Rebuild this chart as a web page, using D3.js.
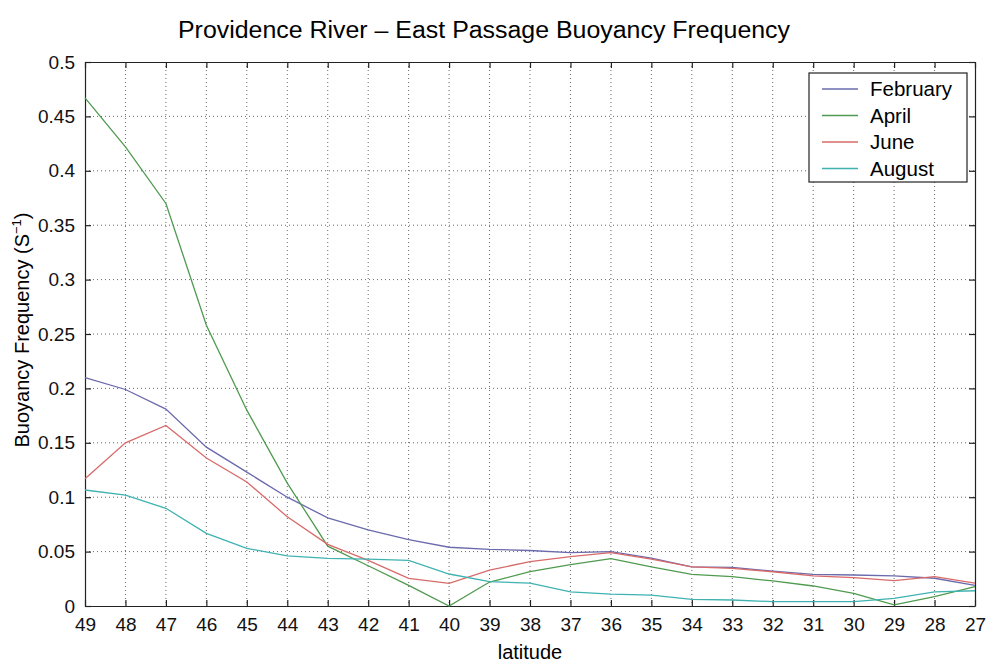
<!DOCTYPE html>
<html>
<head>
<meta charset="utf-8">
<script src="https://cdn.jsdelivr.net/npm/d3@7"></script>
<style>
  body { margin: 0; background: #fff; }
  svg { font-family: "Liberation Sans", Arial, sans-serif; }
</style>
</head>
<body>
<svg id="chart" width="992" height="664"></svg>
<script>
// latitude stations, north to south
var latitudes = [49, 48, 47, 46, 45, 44, 43, 42, 41, 40, 39, 38, 37, 36, 35, 34, 33, 32, 31, 30, 29, 28, 27];

var february = [0.210, 0.199, 0.181, 0.146, 0.123, 0.100, 0.081, 0.070, 0.061, 0.054, 0.052, 0.051, 0.049, 0.050, 0.044, 0.036, 0.0355, 0.032, 0.029, 0.0285, 0.0276, 0.0255, 0.019];
var april    = [0.467, 0.422, 0.370, 0.258, 0.180, 0.113, 0.055, 0.037, 0.019, 0.000, 0.022, 0.0315, 0.038, 0.0435, 0.036, 0.029, 0.027, 0.023, 0.0184, 0.0117, 0.001, 0.0086, 0.0178];
var june     = [0.117, 0.150, 0.166, 0.136, 0.114, 0.082, 0.0567, 0.042, 0.0254, 0.0208, 0.033, 0.0407, 0.0453, 0.049, 0.043, 0.036, 0.0346, 0.0315, 0.0276, 0.026, 0.0233, 0.027, 0.021];
var august   = [0.1066, 0.102, 0.0898, 0.0668, 0.053, 0.046, 0.0438, 0.043, 0.042, 0.0294, 0.0224, 0.021, 0.013, 0.011, 0.010, 0.006, 0.0055, 0.004, 0.004, 0.004, 0.007, 0.013, 0.014];

var seriesNames = ["February", "April", "June", "August"];
var seriesColors = ["#6a6aac", "#4f9a4f", "#d86a6a", "#3fb2b2"];
var seriesValues = [february, april, june, august];

var yTicks = [0, 0.05, 0.1, 0.15, 0.2, 0.25, 0.3, 0.35, 0.4, 0.45, 0.5];

var svg = d3.select("#chart");
var plotL = 85, plotR = 975, plotT = 62, plotB = 606;

var x = d3.scaleLinear().domain([49, 27]).range([plotL, plotR]);
var y = d3.scaleLinear().domain([0, 0.5]).range([plotB, plotT]);

function fmtY(d) {
    if (d == 0) return "0";
    return String(+d.toFixed(2));
}

// grid
var grid = svg.append("g").attr("class", "grid");
grid.selectAll("line.gx")
    .data(latitudes.slice(1, -1))
    .enter().append("line")
    .attr("class", "gx")
    .attr("x1", function(d) { return x(d); })
    .attr("x2", function(d) { return x(d); })
    .attr("y1", plotT).attr("y2", plotB)
    .style("stroke", "#666")
    .style("stroke-dasharray", "1,3");
grid.selectAll("line.gy")
    .data(yTicks.slice(1, -1))
    .enter().append("line")
    .attr("class", "gy")
    .attr("x1", plotL).attr("x2", plotR)
    .attr("y1", function(d) { return y(d); })
    .attr("y2", function(d) { return y(d); })
    .style("stroke", "#666")
    .style("stroke-dasharray", "1,3");

// axes, ticks pointing inward on all four sides
var xAxis = d3.axisBottom(x).tickValues(latitudes).tickSizeInner(-6).tickSizeOuter(0).tickPadding(12).tickFormat(d3.format("d"));
var yAxis = d3.axisLeft(y).tickValues(yTicks).tickSizeInner(-6).tickSizeOuter(0).tickPadding(10).tickFormat(fmtY);

var gx = svg.append("g").attr("transform", "translate(0," + plotB + ")").call(xAxis);
var gy = svg.append("g").attr("transform", "translate(" + plotL + ",0)").call(yAxis);
svg.append("g").attr("transform", "translate(0," + plotT + ")")
    .call(d3.axisTop(x).tickValues(latitudes).tickSizeInner(-6).tickSizeOuter(0).tickFormat(""));
svg.append("g").attr("transform", "translate(" + plotR + ",0)")
    .call(d3.axisRight(y).tickValues(yTicks).tickSizeInner(-6).tickSizeOuter(0).tickFormat(""));

svg.selectAll(".domain").style("stroke", "#222").style("stroke-width", 1.2);
svg.selectAll(".tick line").style("stroke", "#222").style("stroke-width", 1.2);
gx.selectAll("text").style("font-size", "19px").style("fill", "#111");
gy.selectAll("text").style("font-size", "19px").style("fill", "#111");

// lines
var line = d3.line()
    .x(function(d, i) { return x(latitudes[i]); })
    .y(function(d) { return y(d); });

svg.selectAll("path.series")
    .data(seriesValues)
    .enter().append("path")
    .attr("class", "series")
    .attr("d", line)
    .style("fill", "none")
    .style("stroke", function(d, i) { return seriesColors[i]; })
    .style("stroke-width", 1.3);

// title and labels
svg.append("text")
    .attr("x", 484).attr("y", 38)
    .attr("text-anchor", "middle")
    .attr("textLength", 612)
    .attr("lengthAdjust", "spacingAndGlyphs")
    .style("font-size", "23px")
    .text("Providence River \u2013 East Passage Buoyancy Frequency");

svg.append("text")
    .attr("x", 530).attr("y", 659)
    .attr("text-anchor", "middle")
    .style("font-size", "20px")
    .text("latitude");

var yl = svg.append("text")
    .attr("transform", "translate(29,330) rotate(-90)")
    .attr("text-anchor", "middle")
    .style("font-size", "20px");
yl.append("tspan").text("Buoyancy Frequency (S");
yl.append("tspan").attr("dy", -8).style("font-size", "13px").text("\u22121");
yl.append("tspan").attr("dy", 8).text(")");

// legend
var legend = svg.append("g").attr("transform", "translate(809,73)");
legend.append("rect")
    .attr("width", 158).attr("height", 109)
    .style("fill", "#fff")
    .style("stroke", "#222")
    .style("stroke-width", 1.2);

var item = legend.selectAll("g.item")
    .data(seriesNames)
    .enter().append("g")
    .attr("class", "item")
    .attr("transform", function(d, i) { return "translate(0," + (16 + i * 26.5) + ")"; });
item.append("line")
    .attr("x1", 13).attr("x2", 49)
    .style("stroke", function(d, i) { return seriesColors[i]; })
    .style("stroke-width", 1.3);
item.append("text")
    .attr("x", 61).attr("dy", "0.35em")
    .style("font-size", "20.5px")
    .text(function(d) { return d; });
</script>
</body>
</html>
